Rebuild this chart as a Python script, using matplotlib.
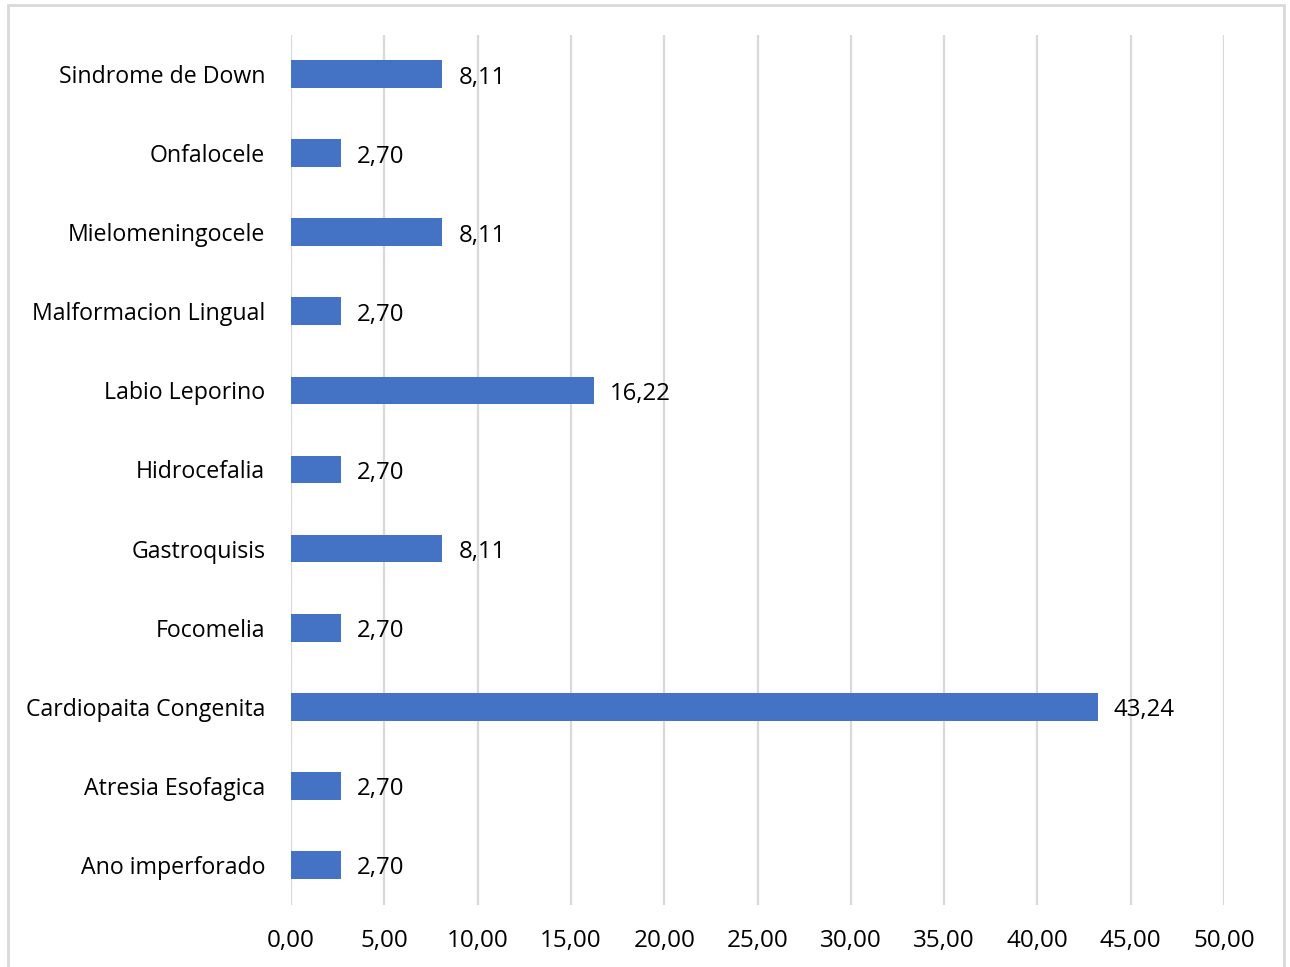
import matplotlib
matplotlib.use("Agg")
import matplotlib.pyplot as plt
from matplotlib.patches import Rectangle
from matplotlib.ticker import MultipleLocator, FuncFormatter

categories = [
    "Ano imperforado",
    "Atresia Esofagica",
    "Cardiopaita Congenita",
    "Focomelia",
    "Gastroquisis",
    "Hidrocefalia",
    "Labio Leporino",
    "Malformacion Lingual",
    "Mielomeningocele",
    "Onfalocele",
    "Sindrome de Down",
]
values = [2.70, 2.70, 43.24, 2.70, 8.11, 2.70, 16.22, 2.70, 8.11, 2.70, 8.11]

plt.rcParams["font.family"] = ["Open Sans", "DejaVu Sans"]

W, H = 1290, 967
fig = plt.figure(figsize=(W / 100, H / 100), dpi=100)
ax = fig.add_axes([291 / W, 1 - 904.5 / H, (1224 - 291) / W, (904.5 - 34.5) / H])

bar_color = "#4472C4"
grid_color = "#D9D9D9"

ypos = list(range(len(categories)))
ax.barh(ypos, values, height=0.35, color=bar_color, zorder=3)

def comma(v, _=None):
    return f"{v:.2f}".replace(".", ",")

for y, v in zip(ypos, values):
    ax.annotate(comma(v), (v, y), xytext=(11.5, -2.5), textcoords="offset points",
                va="center", ha="left", fontsize=17.3, color="#000000")

ax.set_xlim(0, 50)
ax.set_ylim(-0.5, len(categories) - 0.5)
ax.xaxis.set_major_locator(MultipleLocator(5))
ax.xaxis.set_major_formatter(FuncFormatter(comma))
ax.set_yticks(ypos)
ax.set_yticklabels(categories)

ax.grid(axis="x", color=grid_color, linewidth=1.6, zorder=0)
for s in ax.spines.values():
    s.set_visible(False)
ax.tick_params(axis="both", length=0, colors="#000000")
ax.tick_params(axis="x", pad=18, labelsize=17.5)
ax.tick_params(axis="y", pad=18.5, labelsize=16.7)

# outer chart frame
fig.patches.append(Rectangle((8 / W, -0.05), (1284 - 8) / W, 1 - 5 / H + 0.05,
                             transform=fig.transFigure, fill=False,
                             edgecolor=grid_color, linewidth=2))

fig.savefig("out.png", dpi=100, facecolor="white")
